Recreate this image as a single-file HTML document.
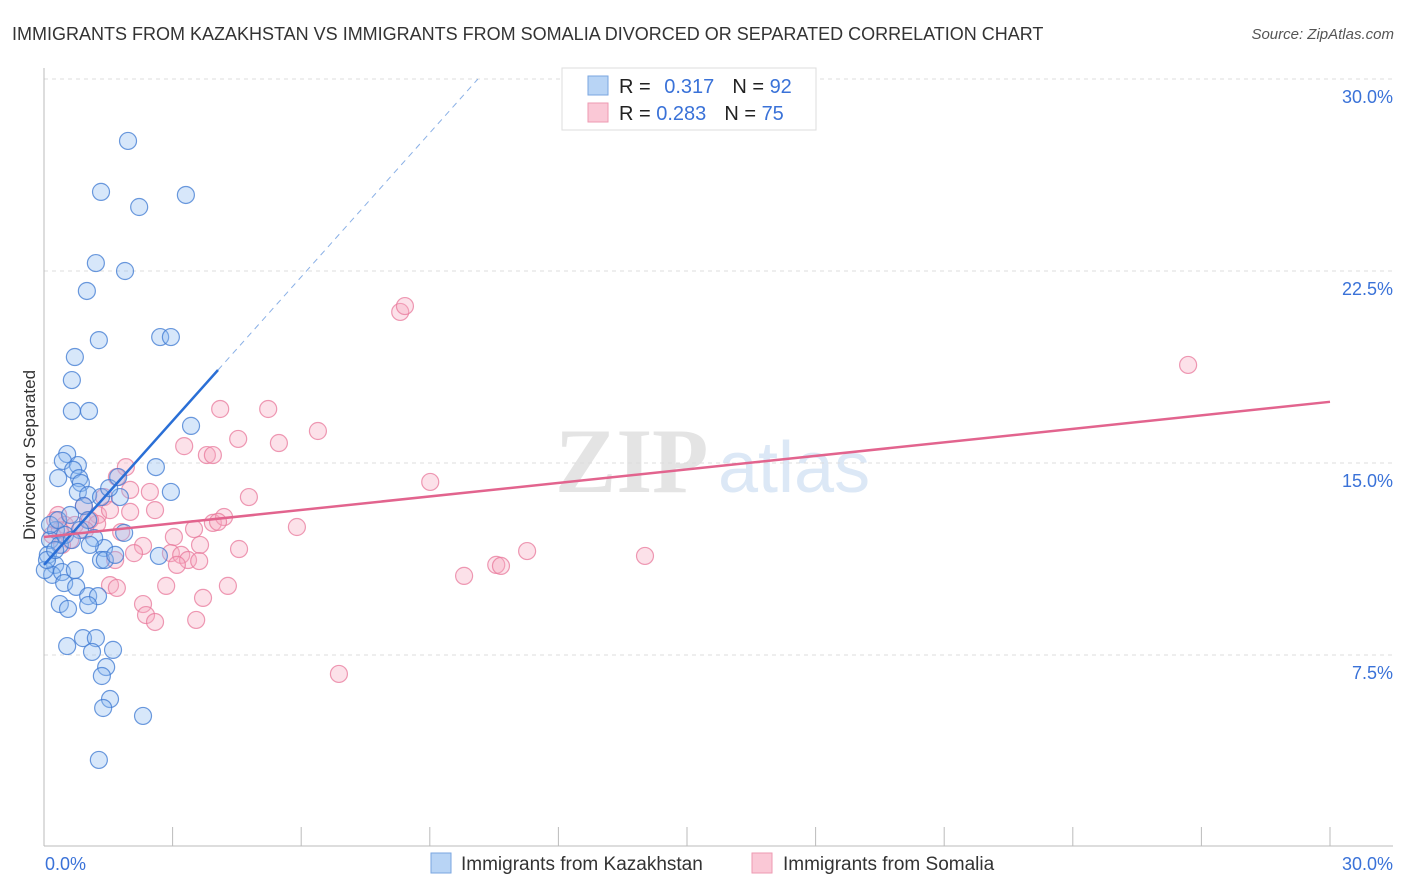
<!DOCTYPE html>
<html><head><meta charset="utf-8">
<style>
body{margin:0;background:#fff;font-family:"Liberation Sans",sans-serif;}
#wrap{position:relative;width:1406px;height:892px;overflow:hidden;}
</style></head>
<body>
<div id="wrap">
<svg id="svg" width="1406" height="892" xmlns="http://www.w3.org/2000/svg">
<text x="12" y="40" font-size="18" fill="#333">IMMIGRANTS FROM KAZAKHSTAN VS IMMIGRANTS FROM SOMALIA DIVORCED OR SEPARATED CORRELATION CHART</text>
<text x="1394" y="39" font-size="15" fill="#555" font-style="italic" text-anchor="end">Source: ZipAtlas.com</text>
<text x="35" y="455" font-size="17" fill="#333" text-anchor="middle" transform="rotate(-90 35 455)">Divorced or Separated</text>
<g>
<text x="555" y="492" font-size="92" fill="#e4e4e4" font-family="Liberation Serif,serif" font-weight="bold">ZIP</text>
<text x="718" y="492" font-size="72" fill="#dce8f6">atlas</text>
</g>
<g id="grid"></g>
<g id="axes"></g>
<g id="marks"></g>
<g>
<rect x="562" y="68" width="254" height="62" fill="#fff" stroke="#ddd"/>
<rect x="588" y="76" width="20" height="19" fill="#b8d4f5" stroke="#7aa6e0"/>
<rect x="588" y="103" width="20" height="19" fill="#fac8d6" stroke="#ee9ab2"/>
<text x="619" y="93" font-size="20" fill="#222">R = <tspan fill="#3a72d8" dx="8">0.317</tspan><tspan fill="#222" dx="18">N = </tspan><tspan fill="#3a72d8">92</tspan></text>
<text x="619" y="120" font-size="20" fill="#222">R = <tspan fill="#3a72d8">0.283</tspan><tspan fill="#222" dx="18">N = </tspan><tspan fill="#3a72d8">75</tspan></text>
</g>
<g>
<rect x="431" y="853" width="20" height="20" fill="#b8d4f5" stroke="#7aa6e0"/>
<text x="461" y="870" font-size="19" fill="#333">Immigrants from Kazakhstan</text>
<rect x="752" y="853" width="20" height="20" fill="#fac8d6" stroke="#ee9ab2"/>
<text x="783" y="870" font-size="19" fill="#333">Immigrants from Somalia</text>
</g>
</svg>
</div>
<script>
const yTicks=[7.5,15,22.5,30];
const yTickLabels=["7.5%","15.0%","22.5%","30.0%"];
const xTickLabels=["0.0%","30.0%"];
const blueX=[1.96,1.33,2.22,3.31,1.21,1.89,1.0,1.28,2.71,2.96,0.72,0.65,0.65,1.05,3.43,0.54,0.44,0.79,0.68,0.82,0.86,0.33,2.61,0.79,1.03,1.77,1.33,0.93,2.96,1.52,1.73,1.03,0.28,0.14,0.37,0.09,0.26,0.19,0.42,0.47,0.72,0.75,1.4,1.17,1.87,1.33,2.68,1.03,1.26,0.37,0.56,1.03,0.91,1.21,0.54,1.12,1.61,1.45,1.35,1.54,1.38,2.31,1.28,0.14,0.33,0.61,0.84,0.02,0.07,0.49,1.07,1.42,1.66,0.26,0.65];
const blueY=[27.58,25.59,25.0,25.47,22.81,22.5,21.72,19.8,19.92,19.92,19.14,18.24,17.03,17.03,16.45,15.35,15.08,14.92,14.73,14.41,14.22,14.41,14.84,13.87,13.75,13.67,13.67,13.32,13.87,14.02,14.45,12.77,12.38,11.99,11.8,11.41,11.02,10.63,10.74,10.31,10.82,10.16,11.68,12.07,12.27,11.21,11.37,9.8,9.8,9.49,9.3,9.45,8.16,8.16,7.85,7.62,7.7,7.03,6.68,5.78,5.43,5.12,3.4,12.58,12.77,12.97,12.38,10.82,11.21,12.19,11.8,11.21,11.41,11.6,11.99];
const pinkX=[8.31,8.42,26.69,4.11,5.23,6.39,4.53,5.48,3.27,3.8,3.94,9.01,4.78,2.47,1.91,1.7,2.01,1.4,0.93,1.26,2.01,2.59,3.94,4.2,4.06,5.9,1.24,1.8,3.03,3.5,2.31,3.64,4.55,11.27,14.02,2.1,2.96,3.2,3.36,3.62,3.1,1.66,9.8,10.55,10.66,1.54,1.7,2.85,4.29,2.31,3.71,2.38,2.59,3.55,6.88,0.33,0.49,0.19,0.72,1.07,0.61,0.37,0.96,1.54,0.26,0.42];
const pinkY=[20.9,21.13,18.83,17.11,17.11,16.25,15.94,15.78,15.66,15.31,15.31,14.26,13.67,13.87,14.84,14.45,13.95,13.67,13.32,12.97,13.09,13.16,12.66,12.89,12.7,12.5,12.62,12.3,12.11,12.42,11.76,11.8,11.64,11.56,11.37,11.48,11.48,11.41,11.21,11.17,11.02,11.21,10.59,11.02,10.98,10.23,10.12,10.2,10.2,9.49,9.73,9.06,8.79,8.87,6.76,12.97,12.58,12.19,12.58,12.77,11.99,12.38,12.38,13.16,12.77,11.8];
const blueTrend=[11.02,1.875]; // intercept, slope
const pinkTrend=[12.11,0.176];

const NS="http://www.w3.org/2000/svg";
const sx=v=>44+v/30*1286;
const sy=v=>847-v*25.6;
function mk(tag,attrs,parent){const e=document.createElementNS(NS,tag);for(const k in attrs)e.setAttribute(k,attrs[k]);parent.appendChild(e);return e;}
const grid=document.getElementById('grid'),axes=document.getElementById('axes'),marks=document.getElementById('marks');
yTicks.forEach((t,i)=>{
  const l=mk('line',{x1:44,x2:1393,y1:sy(t),y2:sy(t),stroke:'#ddd','stroke-dasharray':'4,4'},grid);
  
  
  const tx=mk('text',{x:1393,y:sy(t)+24,'font-size':18,fill:'#3a72d8','text-anchor':'end'},axes);
  tx.textContent=yTickLabels[i];
  
  
});
const yax=mk('line',{x1:44,x2:44,y1:68,y2:846,stroke:'#bbb'},axes);


const xax=mk('line',{x1:44,x2:1393,y1:846,y2:846,stroke:'#bbb'},axes);


for(let i=0;i<=10;i++){
  const t=mk('line',{x1:sx(i*3),x2:sx(i*3),y1:827,y2:846,stroke:'#bbb'},axes);
  
  
}
[[0,'start',45],[30,'end',1393]].forEach((d,i)=>{
  const tx=mk('text',{x:d[2],y:870,'font-size':18,fill:'#3a72d8','text-anchor':d[1]},axes);
  tx.textContent=xTickLabels[i];
  
  
});
function pts(X,Y,fill,stroke,name){
  X.forEach((x,i)=>{
    const c=mk('circle',{cx:sx(x),cy:sy(Y[i]),r:8.5,fill:fill,stroke:stroke,'stroke-width':1.2},marks);
    
    
  });
}
pts(pinkX,pinkY,'rgba(247,170,192,0.35)','rgba(232,120,155,0.75)','point-somalia');
pts(blueX,blueY,'rgba(140,185,240,0.35)','rgba(60,120,210,0.75)','point-kazakhstan');
const bEnd=4.06;
const bl=mk('line',{x1:sx(0),y1:sy(blueTrend[0]),x2:sx(bEnd),y2:sy(blueTrend[0]+blueTrend[1]*bEnd),stroke:'#2a6fd6','stroke-width':2.5},marks);


const bEnd2=(30-blueTrend[0])/blueTrend[1];
const bd=mk('line',{x1:sx(bEnd),y1:sy(blueTrend[0]+blueTrend[1]*bEnd),x2:sx(bEnd2),y2:sy(30),stroke:'#8ab0e6','stroke-width':1,'stroke-dasharray':'6,5'},marks);


const pl=mk('line',{x1:sx(0),y1:sy(pinkTrend[0]),x2:sx(30),y2:sy(pinkTrend[0]+pinkTrend[1]*30),stroke:'#e2648e','stroke-width':2.5},marks);


</script>
</body></html>
